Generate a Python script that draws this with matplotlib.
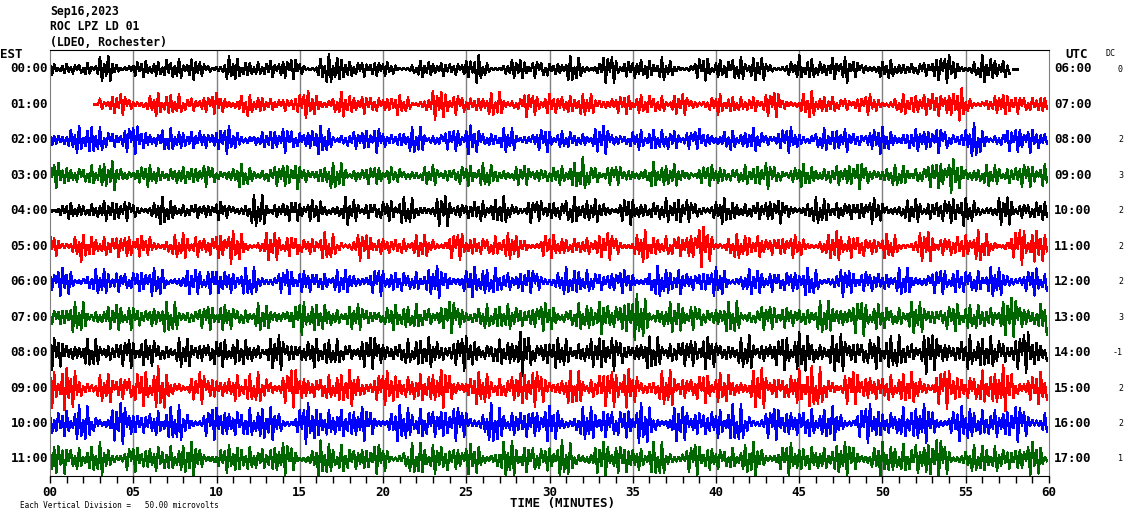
"""Helicorder plot of ROC LPZ LD 01 for Sep16,2023, one trace per hour."""
import matplotlib
matplotlib.use("Agg")
import matplotlib.pyplot as plt
import numpy as np

W, H = 1130, 519

title_lines = ["Sep16,2023", "ROC LPZ LD 01", "(LDEO, Rochester)"]
est_labels = [f"{h:02d}:00" for h in range(12)]
utc_labels = [f"{h:02d}:00" for h in range(6, 18)]
dc_values = ["0", "", "2", "3", "2", "2", "2", "3", "-1", "2", "2", "1"]
colors = ["black", "#ff0000", "#0000ff", "#006600"]
trace_start = [0.0, 2.7, 0, 0, 0, 0, 0, 0, 0, 0, 0, 0]
trace_end = [57.85, 60, 60, 60, 60, 60, 60, 60, 60, 60, 60, 60]
row0_flat_end = 58.1

# peak half-amplitude of each trace per minute, in pixels (row spacing ~35 px)
env00 = [5, 6, 7, 11, 9, 7, 9, 12, 10, 6, 14, 9, 8, 10, 9, 8, 13, 14, 9, 8,
         6, 6, 7, 8, 7, 12, 7, 8, 9, 10, 7, 11, 10, 12, 9, 12, 10, 7, 8, 10,
         11, 14, 10, 8, 7, 12, 9, 13, 7, 12, 8, 6, 8, 12, 13, 9, 12, 10, 0, 0]
env01 = [0, 0, 0, 8, 9, 8, 10, 11, 9, 8, 11, 12, 8, 6, 9, 12, 13, 11, 9, 10,
         9, 8, 10, 13, 10, 9, 10, 12, 11, 9, 11, 12, 9, 12, 8, 10, 11, 8, 9, 7,
         9, 8, 10, 11, 8, 12, 9, 8, 7, 9, 8, 9, 11, 16, 14, 8, 7, 11, 9, 10]
env02 = [10, 12, 14, 12, 13, 12, 14, 10, 8, 13, 12, 10, 7, 10, 12, 13, 12, 10, 8, 12,
         9, 11, 12, 9, 10, 14, 10, 10, 8, 11, 8, 9, 10, 12, 9, 9, 10, 15, 8, 11,
         10, 8, 12, 9, 11, 9, 10, 11, 9, 12, 11, 12, 10, 12, 9, 15, 9, 10, 12, 10]
env03 = [11, 12, 9, 13, 9, 10, 9, 11, 8, 10, 9, 10, 8, 10, 12, 8, 14, 11, 9, 9,
         7, 8, 7, 9, 10, 10, 11, 9, 8, 10, 9, 12, 17, 9, 8, 7, 12, 10, 8, 9,
         11, 9, 10, 12, 9, 10, 11, 9, 12, 11, 9, 10, 11, 14, 15, 11, 9, 13, 12, 10]
env04 = [6, 7, 9, 11, 9, 8, 12, 10, 8, 7, 8, 10, 14, 9, 11, 9, 11, 12, 9, 10,
         11, 12, 10, 13, 9, 11, 10, 13, 12, 9, 12, 14, 10, 11, 12, 9, 11, 13, 10, 12,
         11, 10, 9, 11, 8, 10, 12, 11, 9, 11, 10, 9, 11, 12, 14, 11, 9, 12, 10, 10]
env05 = [12, 15, 10, 11, 13, 9, 14, 10, 12, 11, 15, 13, 10, 12, 12, 9, 12, 11, 13, 10,
         9, 8, 10, 13, 12, 10, 11, 13, 9, 12, 10, 9, 10, 12, 12, 14, 10, 12, 14, 18,
         12, 11, 13, 10, 10, 9, 10, 14, 13, 9, 11, 9, 13, 10, 12, 14, 11, 10, 16, 20]
env06 = [12, 13, 11, 12, 10, 14, 12, 10, 11, 13, 15, 12, 13, 10, 11, 12, 11, 10, 13, 12,
         10, 11, 12, 14, 13, 13, 15, 12, 10, 12, 11, 13, 12, 11, 10, 12, 14, 13, 11, 12,
         13, 12, 11, 10, 14, 12, 11, 13, 10, 12, 10, 12, 13, 11, 12, 14, 13, 12, 11, 12]
env07 = [12, 13, 14, 11, 12, 10, 15, 13, 12, 11, 13, 11, 12, 10, 12, 15, 13, 12, 11, 12,
         11, 12, 13, 12, 14, 12, 11, 13, 14, 12, 14, 12, 13, 16, 22, 20, 16, 14, 12, 11,
         13, 15, 12, 11, 10, 12, 14, 20, 16, 13, 12, 14, 13, 15, 12, 13, 15, 17, 19, 16]
env08 = [15, 14, 12, 13, 14, 12, 14, 13, 12, 15, 13, 12, 14, 15, 13, 14, 13, 12, 15, 14,
         13, 12, 14, 15, 16, 14, 13, 12, 20, 18, 13, 15, 14, 16, 13, 15, 14, 16, 13, 15,
         14, 13, 15, 14, 16, 19, 17, 16, 18, 15, 16, 17, 20, 15, 14, 16, 15, 20, 18, 16]
env09 = [20, 18, 13, 12, 16, 18, 20, 12, 11, 14, 12, 13, 14, 16, 17, 14, 13, 15, 16, 17,
         15, 16, 14, 17, 16, 14, 15, 13, 18, 16, 14, 15, 13, 20, 17, 14, 15, 16, 14, 15,
         13, 16, 17, 14, 15, 20, 18, 15, 14, 17, 13, 14, 16, 18, 15, 16, 17, 20, 18, 14]
env10 = [14, 16, 15, 17, 18, 12, 14, 16, 15, 14, 15, 16, 17, 14, 13, 18, 17, 16, 15, 14,
         15, 16, 18, 16, 15, 17, 18, 14, 16, 15, 15, 16, 14, 17, 16, 18, 15, 16, 14, 15,
         16, 17, 15, 14, 15, 16, 14, 15, 16, 17, 14, 18, 17, 16, 15, 18, 16, 15, 16, 17]
env11 = [17, 14, 12, 15, 13, 11, 14, 16, 15, 13, 12, 14, 13, 15, 14, 12, 16, 15, 14, 13,
         12, 14, 15, 16, 14, 13, 15, 16, 14, 15, 16, 14, 13, 15, 16, 14, 15, 12, 14, 13,
         12, 14, 15, 13, 14, 13, 14, 15, 16, 15, 15, 16, 20, 18, 14, 12, 14, 13, 14, 15]
envelopes = [env00, env01, env02, env03, env04, env05,
             env06, env07, env08, env09, env10, env11]

ROW_PX = 35.45
SPM = 8  # samples per minute, about one per two pixel columns


def trace(row, env):
    n = np.arange(int(trace_start[row] * SPM), int(trace_end[row] * SPM))
    t = n / SPM
    amp = np.asarray(env, float)[np.minimum(n // SPM, 59)] / ROW_PX
    ph = 1.7 * row + 0.4
    # drawing carrier only (alternating strokes of uneven height);
    # the amplitude of every minute comes from the envelope read above
    mag = np.abs(0.5 * np.sin(0.71 * n + ph) + 0.3 * np.sin(0.43 * n + 2.3 * ph)
                 + 0.25 * np.sin(1.13 * n + 3.1 * ph))
    carrier = np.where(n % 2 == 0, 1.0, -1.0) * np.minimum(0.1 + 1.25 * mag, 1.15)
    return t, -row + amp * carrier


fig = plt.figure(figsize=(W / 100, H / 100), dpi=100)
ax = fig.add_axes([50 / W, 1 - 476 / H, 999 / W, 426 / H])
ax.set_xlim(0, 60)
ax.set_ylim(-11 - 17 / ROW_PX, 19 / ROW_PX)

for x in range(5, 60, 5):
    ax.axvline(x, color="#808080", lw=1, zorder=1)

for row, env in enumerate(envelopes):
    t, y = trace(row, env)
    ax.plot(t, y, color=colors[row % 4], lw=1.0, zorder=2, antialiased=False)
    if row == 0:
        ax.plot([trace_end[0], row0_flat_end], [0, 0], color="black", lw=1.0,
                antialiased=False)

for side in ("left", "right"):
    ax.spines[side].set_color("#808080")
ax.spines["top"].set_color("black")
ax.spines["bottom"].set_color("black")
ax.set_yticks([])
ax.set_xticks(range(0, 61, 5))
ax.set_xticks(range(0, 61), minor=True)
ax.set_xticklabels([f"{m:02d}" for m in range(0, 61, 5)],
                   fontfamily="DejaVu Sans Mono", fontweight="bold", fontsize=9)
ax.tick_params(axis="x", which="both", direction="out", length=5, width=1, pad=2)

mono = dict(fontfamily="DejaVu Sans Mono", fontweight="bold", fontsize=9)


def ftext(x, y, s, **kw):
    fig.text(x / W, 1 - y / H, s, **kw)


for i, line in enumerate(title_lines):
    ftext(50, 12 + 15 * i, line, va="center", ha="left",
          fontfamily="DejaVu Sans Mono", fontweight="bold", fontsize=8.3)
ftext(0, 55, "EST", va="center", ha="left", **mono)
ftext(1065, 55, "UTC", va="center", ha="left", **mono)
ftext(1105, 53, "DC", va="center", ha="left",
      fontfamily="DejaVu Sans Mono", fontsize=6)
for row in range(12):
    yc = 69 + row * ROW_PX
    ftext(48, yc, est_labels[row], va="center", ha="right", **mono)
    ftext(1054, yc, utc_labels[row], va="center", ha="left", **mono)
    if dc_values[row]:
        ftext(1123, yc, dc_values[row], va="center", ha="right",
              fontfamily="DejaVu Sans Mono", fontsize=6)

ftext(562, 503, "TIME (MINUTES)", va="center", ha="center", **mono)
ftext(20, 505, "Each Vertical Division =   50.00 microvolts", va="center",
      ha="left", fontfamily="DejaVu Sans Mono", fontsize=5.5)

fig.savefig("out.png", dpi=100)
